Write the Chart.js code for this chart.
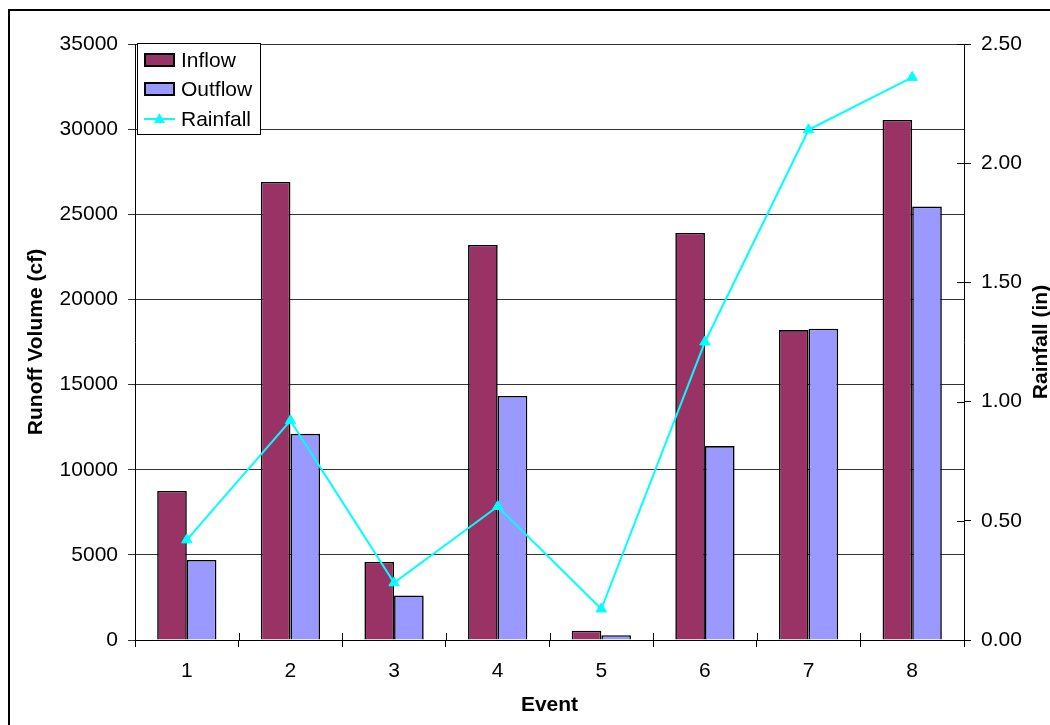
<!DOCTYPE html>
<html>
<head>
<meta charset="utf-8">
<script src="https://cdn.jsdelivr.net/npm/chart.js@4.4.1/dist/chart.umd.min.js"></script>
<style>
  html, body { margin: 0; padding: 0; background: #fff; }
  canvas { display: block; }
</style>
</head>
<body>
<canvas id="c" width="1050" height="725"></canvas>
<script>
// Runoff volumes per storm event and the rainfall depth of each event
const events = ['1', '2', '3', '4', '5', '6', '7', '8'];
const inflow = [8750, 26900, 4580, 23200, 550, 23900, 18200, 30540];
const outflow = [4700, 12110, 2620, 14330, 280, 11390, 18280, 25450];
const rainfall = [0.42, 0.92, 0.24, 0.56, 0.13, 1.25, 2.14, 2.36];

const volumeTicks = [0, 5000, 10000, 15000, 20000, 25000, 30000, 35000];
const rainTicks = [0, 0.5, 1.0, 1.5, 2.0, 2.5];

const FONT = "'Liberation Sans', Arial, sans-serif";
const FS = 21;
const INFLOW_COLOR = '#993366';
const OUTFLOW_COLOR = '#9999FF';
const RAIN_COLOR = '#00FFFF';

// Frame, legend box, right-hand title and crossing tick marks
const decorations = {
  id: 'decorations',
  beforeDraw(chart) {
    const ctx = chart.ctx;
    ctx.save();
    ctx.fillStyle = '#fff';
    ctx.fillRect(0, 0, chart.width, chart.height);
    ctx.strokeStyle = '#000';
    ctx.lineWidth = 2;
    ctx.strokeRect(9, 10, chart.width + 20, chart.height + 20);
    ctx.restore();
  },
  afterDraw(chart) {
    const ctx = chart.ctx;
    const area = chart.chartArea;
    const y1 = chart.scales.y1;
    ctx.save();

    // inner halves of the category ticks
    ctx.strokeStyle = '#000';
    ctx.lineWidth = 1;
    ctx.beginPath();
    for (let i = 0; i <= events.length; i++) {
      const px = Math.round(area.left + (area.right - area.left) * i / events.length) + 0.5;
      ctx.moveTo(px, area.bottom);
      ctx.lineTo(px, area.bottom - 7);
    }
    // inner halves of the rainfall ticks
    rainTicks.forEach(v => {
      const py = Math.round(y1.getPixelForValue(v)) + 0.5;
      ctx.moveTo(area.right, py);
      ctx.lineTo(area.right - 7, py);
    });
    ctx.stroke();

    // right axis title, reading bottom to top
    ctx.fillStyle = '#000';
    ctx.font = `bold ${FS}px ${FONT}`;
    ctx.textAlign = 'center';
    ctx.textBaseline = 'middle';
    ctx.translate(1041, (area.top + area.bottom) / 2);
    ctx.rotate(-Math.PI / 2);
    ctx.fillText('Rainfall (in)', 0, 0);
    ctx.setTransform(1, 0, 0, 1, 0, 0);

    // legend
    const bx = area.left + 2, by = area.top - 1;
    ctx.fillStyle = '#fff';
    ctx.fillRect(bx, by, 123, 91);
    ctx.strokeStyle = '#000';
    ctx.lineWidth = 1;
    ctx.strokeRect(bx + 0.5, by + 0.5, 123, 91);
    const rows = [
      { ds: chart.data.datasets[1], cy: by + 17 },
      { ds: chart.data.datasets[2], cy: by + 46 },
      { ds: chart.data.datasets[0], cy: by + 76 }
    ];
    rows.forEach(r => {
      const sx = bx + 7;
      if (r.ds.type === 'line') {
        ctx.strokeStyle = r.ds.borderColor;
        ctx.lineWidth = 2;
        ctx.beginPath();
        ctx.moveTo(sx, r.cy);
        ctx.lineTo(sx + 31, r.cy);
        ctx.stroke();
        ctx.fillStyle = r.ds.pointBackgroundColor;
        ctx.beginPath();
        ctx.moveTo(sx + 15.5, r.cy - 6);
        ctx.lineTo(sx + 21, r.cy + 4);
        ctx.lineTo(sx + 10, r.cy + 4);
        ctx.closePath();
        ctx.fill();
      } else {
        ctx.fillStyle = r.ds.backgroundColor;
        ctx.fillRect(sx, r.cy - 7, 31, 14);
        ctx.strokeStyle = '#000';
        ctx.lineWidth = 2;
        ctx.strokeRect(sx + 1, r.cy - 6, 29, 12);
      }
      ctx.fillStyle = '#000';
      ctx.font = `${FS}px ${FONT}`;
      ctx.textAlign = 'left';
      ctx.textBaseline = 'middle';
      ctx.fillText(r.ds.label, sx + 37, r.cy + 1);
    });
    ctx.restore();
  }
};

new Chart(document.getElementById('c'), {
  data: {
    labels: events,
    datasets: [
      {
        type: 'line',
        label: 'Rainfall',
        data: rainfall,
        yAxisID: 'y1',
        borderColor: RAIN_COLOR,
        borderWidth: 2,
        pointStyle: 'triangle',
        pointRadius: 6,
        pointBackgroundColor: RAIN_COLOR,
        pointBorderColor: RAIN_COLOR,
        pointBorderWidth: 1,
        tension: 0,
        order: 0
      },
      {
        type: 'bar',
        label: 'Inflow',
        data: inflow,
        yAxisID: 'y',
        backgroundColor: INFLOW_COLOR,
        borderColor: '#000',
        borderWidth: 1.6,
        categoryPercentage: 0.572,
        barPercentage: 1.0,
        order: 1
      },
      {
        type: 'bar',
        label: 'Outflow',
        data: outflow,
        yAxisID: 'y',
        backgroundColor: OUTFLOW_COLOR,
        borderColor: '#000',
        borderWidth: 1.6,
        categoryPercentage: 0.572,
        barPercentage: 1.0,
        order: 2
      }
    ]
  },
  options: {
    responsive: false,
    animation: false,
    devicePixelRatio: 1,
    layout: { padding: { top: 44, left: 0, right: 0, bottom: 0 } },
    plugins: {
      legend: { display: false },
      tooltip: { enabled: false }
    },
    scales: {
      x: {
        offset: true,
        grid: { display: true, drawOnChartArea: false, offset: true, tickLength: 7, color: '#000' },
        border: { display: true, color: '#000', width: 1 },
        ticks: { color: '#000', font: { family: FONT, size: FS }, padding: 12 },
        title: { display: true, text: 'Event', color: '#000', font: { family: FONT, size: FS, weight: 'bold' }, padding: { top: 0, bottom: 7 } },
        afterFit(s) { s.height = 85; }
      },
      y: {
        position: 'left',
        min: 0,
        max: 35000,
        afterBuildTicks(s) { s.ticks = volumeTicks.map(v => ({ value: v })); },
        grid: { color: '#333', lineWidth: 1, tickLength: 7 },
        border: { display: true, color: '#000', width: 1 },
        ticks: { color: '#000', font: { family: FONT, size: FS }, padding: 10, callback: v => String(v) },
        title: { display: true, text: 'Runoff Volume (cf)', color: '#000', font: { family: FONT, size: FS, weight: 'bold' }, padding: { top: 24, bottom: 0 } },
        afterFit(s) { s.width = 135; }
      },
      y1: {
        position: 'right',
        min: 0,
        max: 2.5,
        afterBuildTicks(s) { s.ticks = rainTicks.map(v => ({ value: v })); },
        grid: { drawOnChartArea: false, color: '#000', tickLength: 7 },
        border: { display: true, color: '#000', width: 1 },
        ticks: { color: '#000', font: { family: FONT, size: FS }, padding: 10, callback: v => Number(v).toFixed(2) },
        afterFit(s) { s.width = 86; }
      }
    }
  },
  plugins: [decorations]
});
</script>
</body>
</html>
